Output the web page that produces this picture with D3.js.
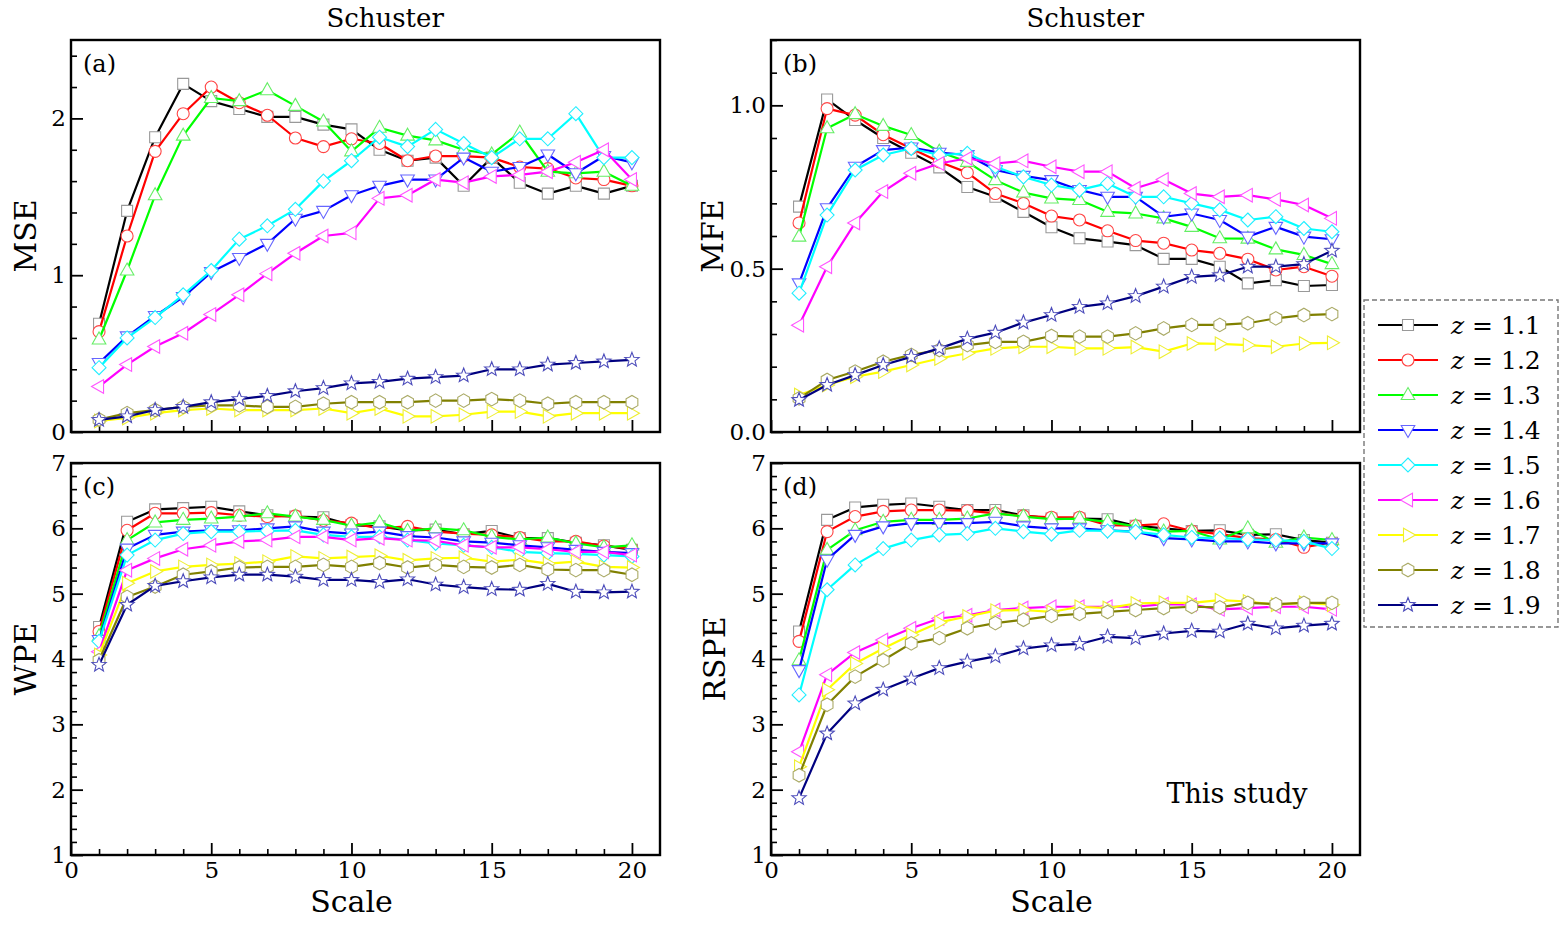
<!DOCTYPE html>
<html><head><meta charset="utf-8">
<script src="https://cdn.jsdelivr.net/npm/d3@7"></script>
<style>
body{margin:0;background:#fff}
svg{display:block}
text{font-family:"DejaVu Serif","Liberation Serif",serif;fill:#000}
</style>
</head><body>
<svg id="chart" width="1567" height="930"></svg>
<script>
const scales = d3.range(1, 21);
const zLabels = ["1.1","1.2","1.3","1.4","1.5","1.6","1.7","1.8","1.9"];
const lineColors = ["#000000","#ff0000","#00ff00","#0000ff","#00ffff","#ff00ff","#ffff00","#808000","#000080"];
const markerColors = ["#999999","#ff4444","#66ee66","#6666ff","#22eeff","#ff55ff","#eeee33","#aaaa66","#4d4dbb"];
const markerShapes = ["square","circle","triUp","triDown","diamond","triLeft","triRight","hexagon","star"];

const mseValues = [
  [0.69,1.41,1.88,2.22,2.11,2.06,2.01,2.01,1.96,1.93,1.80,1.73,1.75,1.57,1.75,1.59,1.52,1.57,1.52,1.57],
  [0.64,1.25,1.79,2.03,2.20,2.10,2.02,1.875,1.82,1.87,1.84,1.73,1.76,1.76,1.75,1.69,1.68,1.62,1.61,1.57],
  [0.59,1.03,1.51,1.89,2.13,2.11,2.18,2.08,1.98,1.79,1.94,1.89,1.86,1.80,1.77,1.91,1.66,1.65,1.66,1.57],
  [0.44,0.61,0.74,0.86,1.02,1.11,1.20,1.36,1.41,1.51,1.57,1.61,1.61,1.75,1.66,1.69,1.77,1.65,1.76,1.72],
  [0.41,0.60,0.73,0.875,1.03,1.23,1.315,1.42,1.60,1.73,1.88,1.82,1.93,1.84,1.75,1.87,1.87,2.03,1.75,1.75],
  [0.29,0.43,0.545,0.63,0.75,0.875,1.01,1.14,1.25,1.27,1.49,1.51,1.61,1.59,1.63,1.64,1.66,1.72,1.80,1.61],
  [0.07,0.09,0.12,0.14,0.15,0.14,0.14,0.14,0.15,0.12,0.15,0.10,0.10,0.11,0.13,0.13,0.10,0.12,0.12,0.12],
  [0.08,0.12,0.14,0.16,0.17,0.17,0.16,0.16,0.18,0.19,0.19,0.19,0.20,0.20,0.21,0.20,0.18,0.19,0.19,0.19],
  [0.077,0.10,0.14,0.16,0.19,0.21,0.23,0.26,0.28,0.31,0.32,0.34,0.35,0.36,0.40,0.40,0.43,0.44,0.45,0.46]
];
const mfeValues = [
  [0.69,1.018,0.955,0.90,0.855,0.81,0.75,0.72,0.674,0.627,0.593,0.583,0.572,0.53,0.53,0.506,0.455,0.465,0.447,0.45],
  [0.64,0.99,0.97,0.91,0.868,0.827,0.794,0.73,0.70,0.661,0.649,0.616,0.586,0.578,0.557,0.547,0.529,0.496,0.506,0.477],
  [0.598,0.93,0.973,0.937,0.909,0.858,0.827,0.771,0.733,0.715,0.71,0.674,0.669,0.654,0.628,0.593,0.592,0.559,0.542,0.514],
  [0.455,0.685,0.812,0.863,0.871,0.855,0.848,0.802,0.784,0.771,0.741,0.72,0.72,0.659,0.669,0.649,0.598,0.628,0.598,0.59],
  [0.425,0.664,0.802,0.848,0.868,0.848,0.853,0.812,0.781,0.756,0.741,0.761,0.72,0.72,0.70,0.68,0.649,0.659,0.623,0.613],
  [0.327,0.506,0.64,0.736,0.792,0.822,0.838,0.822,0.83,0.812,0.797,0.797,0.746,0.773,0.73,0.72,0.725,0.712,0.695,0.654],
  [0.113,0.144,0.169,0.185,0.205,0.225,0.241,0.256,0.261,0.261,0.256,0.256,0.26,0.246,0.271,0.27,0.266,0.261,0.271,0.273],
  [0.103,0.159,0.185,0.215,0.236,0.251,0.266,0.276,0.276,0.294,0.292,0.292,0.302,0.317,0.328,0.328,0.333,0.348,0.358,0.361],
  [0.098,0.144,0.174,0.205,0.23,0.256,0.285,0.304,0.335,0.358,0.383,0.394,0.416,0.445,0.475,0.48,0.506,0.506,0.514,0.555]
];
const wpeValues = [
  [4.49,6.10,6.29,6.31,6.33,6.26,6.20,6.18,6.17,6.05,6.03,5.97,5.98,5.91,5.96,5.85,5.85,5.78,5.74,5.67],
  [4.42,5.97,6.23,6.23,6.24,6.20,6.18,6.19,6.12,6.08,6.00,6.03,5.95,5.92,5.90,5.86,5.80,5.80,5.73,5.69],
  [4.35,5.82,6.09,6.13,6.15,6.18,6.23,6.18,6.13,6.04,6.09,5.96,6.00,5.97,5.87,5.83,5.86,5.77,5.71,5.74],
  [4.29,5.69,5.90,5.95,5.97,5.97,6.00,6.03,5.95,5.92,5.95,5.88,5.86,5.80,5.78,5.74,5.71,5.67,5.64,5.62],
  [4.27,5.59,5.82,5.92,5.95,5.95,5.96,5.97,5.90,5.87,5.87,5.82,5.77,5.74,5.71,5.64,5.62,5.61,5.59,5.57],
  [4.11,5.36,5.54,5.68,5.74,5.80,5.82,5.87,5.87,5.82,5.85,5.82,5.81,5.74,5.71,5.71,5.68,5.64,5.64,5.59],
  [4.06,5.16,5.34,5.41,5.44,5.46,5.49,5.57,5.54,5.56,5.58,5.51,5.54,5.55,5.49,5.52,5.46,5.49,5.41,5.40],
  [3.98,4.95,5.11,5.29,5.34,5.40,5.41,5.41,5.44,5.41,5.47,5.40,5.44,5.41,5.40,5.44,5.37,5.36,5.36,5.29],
  [3.91,4.83,5.12,5.19,5.25,5.29,5.29,5.26,5.21,5.21,5.18,5.22,5.14,5.10,5.07,5.06,5.15,5.03,5.02,5.03]
];
const rspeValues = [
  [4.42,6.13,6.32,6.36,6.38,6.33,6.28,6.28,6.20,6.15,6.15,6.14,6.04,6.00,5.96,5.97,5.90,5.91,5.82,5.78],
  [4.27,5.95,6.18,6.26,6.28,6.28,6.27,6.23,6.19,6.17,6.17,6.05,6.04,6.07,5.96,5.91,5.85,5.83,5.71,5.78],
  [3.98,5.67,5.97,6.10,6.13,6.13,6.15,6.23,6.18,6.14,6.15,6.10,6.03,5.95,5.96,5.83,6.00,5.78,5.86,5.82],
  [3.83,5.52,5.90,6.03,6.08,6.08,6.08,6.10,6.03,6.00,6.00,5.97,5.95,5.85,5.83,5.80,5.80,5.77,5.77,5.77],
  [3.45,5.06,5.44,5.69,5.82,5.90,5.92,6.00,5.95,5.91,5.97,5.96,5.95,5.90,5.86,5.85,5.83,5.82,5.80,5.69],
  [2.58,3.76,4.10,4.29,4.47,4.62,4.67,4.75,4.78,4.80,4.80,4.80,4.80,4.84,4.83,4.76,4.78,4.80,4.80,4.76],
  [2.35,3.53,3.93,4.16,4.37,4.56,4.65,4.74,4.75,4.72,4.80,4.78,4.85,4.86,4.86,4.90,4.88,4.83,4.86,4.83],
  [2.22,3.30,3.73,3.98,4.24,4.32,4.47,4.55,4.60,4.66,4.69,4.72,4.75,4.78,4.80,4.79,4.86,4.84,4.86,4.86],
  [1.87,2.86,3.32,3.53,3.70,3.86,3.96,4.04,4.16,4.21,4.23,4.34,4.32,4.39,4.43,4.42,4.54,4.47,4.51,4.54]
];

const xMajorTicks = [0,5,10,15,20];
const panelDefs = [
  {key:"a", data:mseValues, ylabel:"MSE", yDomain:[0,2.5], yMajor:[0,1,2], yMinorStep:0.2, yFmt:d3.format("d"), title:"Schuster", xLabels:false, left:71, top:40, yLabX:36},
  {key:"b", data:mfeValues, ylabel:"MFE", yDomain:[0,1.2], yMajor:[0,0.5,1.0], yMinorStep:0.1, yFmt:d3.format(".1f"), title:"Schuster", xLabels:false, left:771, top:40, yLabX:723},
  {key:"c", data:wpeValues, ylabel:"WPE", yDomain:[1,7], yMajor:[1,2,3,4,5,6,7], yMinorStep:0.2, yFmt:d3.format("d"), title:null, xLabels:true, left:71, top:463, yLabX:36},
  {key:"d", data:rspeValues, ylabel:"RSPE", yDomain:[1,7], yMajor:[1,2,3,4,5,6,7], yMinorStep:0.2, yFmt:d3.format("d"), title:null, xLabels:true, left:771, top:463, yLabX:725, note:"This study"}
];
const W = 589, H = 392;

function markerPath(shape){
  const p = d3.path();
  const poly = pts => { p.moveTo(pts[0][0],pts[0][1]); pts.slice(1).forEach(q=>p.lineTo(q[0],q[1])); p.closePath(); };
  switch(shape){
    case "square": poly([[-5.5,-5.5],[5.5,-5.5],[5.5,5.5],[-5.5,5.5]]); break;
    case "circle": p.moveTo(6,0); p.arc(0,0,6,0,2*Math.PI); p.closePath(); break;
    case "triUp": poly([[0,-7.5],[6.8,4.5],[-6.8,4.5]]); break;
    case "triDown": poly([[0,7.5],[6.8,-4.5],[-6.8,-4.5]]); break;
    case "triLeft": poly([[-7.5,0],[4.5,-6.8],[4.5,6.8]]); break;
    case "triRight": poly([[7.5,0],[-4.5,-6.8],[-4.5,6.8]]); break;
    case "diamond": poly([[0,-7],[7,0],[0,7],[-7,0]]); break;
    case "hexagon": poly(d3.range(6).map(i=>{const a=Math.PI/6+i*Math.PI/3; return [6.8*Math.cos(a),6.8*Math.sin(a)];})); break;
    case "star": poly(d3.range(10).map(i=>{const a=-Math.PI/2+i*Math.PI/5; const r=i%2?3.2:7.5; return [r*Math.cos(a),r*Math.sin(a)];})); break;
  }
  return p.toString();
}

const svg = d3.select("#chart");

panelDefs.forEach(P => {
  const g = svg.append("g").attr("transform", `translate(${P.left},${P.top})`);
  const x = d3.scaleLinear().domain([0,21]).range([0,W]);
  const y = d3.scaleLinear().domain(P.yDomain).range([H,0]);

  // minor ticks
  const yMinor = d3.range(P.yDomain[0], P.yDomain[1]+1e-9, P.yMinorStep).filter(v => !P.yMajor.some(m=>Math.abs(m-v)<1e-6));
  const xMinor = d3.range(1,21).filter(v => !xMajorTicks.includes(v));
  g.append("g").call(d3.axisLeft(y).tickValues(yMinor).tickSize(-6).tickFormat(""))
    .call(s=>s.select(".domain").remove()).selectAll("line").attr("stroke","#000").attr("stroke-width",1.6);
  g.append("g").attr("transform",`translate(0,${H})`).call(d3.axisBottom(x).tickValues(xMinor).tickSize(-6).tickFormat(""))
    .call(s=>s.select(".domain").remove()).selectAll("line").attr("stroke","#000").attr("stroke-width",1.6);

  // major ticks
  const ya = g.append("g").call(d3.axisLeft(y).tickValues(P.yMajor).tickSize(-12).tickPadding(5).tickFormat(P.yFmt))
    .call(s=>s.select(".domain").remove());
  ya.selectAll("line").attr("stroke","#000").attr("stroke-width",1.8);
  ya.selectAll("text").attr("font-size",23).attr("font-family","DejaVu Serif").attr("fill","#000");
  const xa = g.append("g").attr("transform",`translate(0,${H})`)
    .call(d3.axisBottom(x).tickValues(xMajorTicks).tickSize(-12).tickPadding(7).tickFormat(P.xLabels ? d3.format("d") : ""))
    .call(s=>s.select(".domain").remove());
  xa.selectAll("line").attr("stroke","#000").attr("stroke-width",1.8);
  xa.selectAll("text").attr("font-size",23).attr("font-family","DejaVu Serif").attr("fill","#000");

  // series
  const lineGen = d3.line().x((d,i)=>x(scales[i])).y(d=>y(d));
  P.data.forEach((vals, si) => {
    const sg = g.append("g");
    sg.append("path").datum(vals).attr("d", lineGen)
      .attr("fill","none").attr("stroke", lineColors[si]).attr("stroke-width",2.2).attr("stroke-linejoin","round");
    sg.selectAll("path.m").data(vals).join("path").attr("class","m")
      .attr("transform",(d,i)=>`translate(${x(scales[i])},${y(d)})`)
      .attr("d", markerPath(markerShapes[si]))
      .attr("fill","#fff").attr("stroke", markerColors[si]).attr("stroke-width",1.1);
  });

  // frame
  g.append("rect").attr("width",W).attr("height",H).attr("fill","none").attr("stroke","#000").attr("stroke-width",2.4);

  // labels
  g.append("text").attr("x",12).attr("y",32).attr("font-size",24).text(`(${P.key})`);
  svg.append("text").attr("transform",`translate(${P.yLabX},${P.top+H/2}) rotate(-90)`)
    .attr("text-anchor","middle").attr("font-size",30).text(P.ylabel);
  if (P.title) svg.append("text").attr("x",P.left+x(11.2)).attr("y",27).attr("text-anchor","middle").attr("font-size",26).text(P.title);
  if (P.xLabels) g.append("text").attr("x",x(10)).attr("y",H+57).attr("text-anchor","middle").attr("font-size",30).text("Scale");
  if (P.note) g.append("text").attr("x",x(14.1)).attr("y",H-52).attr("font-size",27).text(P.note);
});

// legend
const lg = svg.append("g").attr("transform","translate(1364,300)");
lg.append("rect").attr("width",194).attr("height",327).attr("fill","#fff")
  .attr("stroke","#777").attr("stroke-width",1.4).attr("stroke-dasharray","5,3");
zLabels.forEach((zl, i) => {
  const yy = 25 + i*35;
  lg.append("line").attr("x1",14).attr("x2",74).attr("y1",yy).attr("y2",yy).attr("stroke",lineColors[i]).attr("stroke-width",2.2);
  lg.append("path").attr("transform",`translate(44,${yy})`).attr("d",markerPath(markerShapes[i]))
    .attr("fill","#fff").attr("stroke",markerColors[i]).attr("stroke-width",1.1);
  const t = lg.append("text").attr("x",87).attr("y",yy+9).attr("font-size",25);
  t.append("tspan").attr("font-style","italic").text("z");
  t.append("tspan").text(" = " + zl);
});
</script>
</body></html>
